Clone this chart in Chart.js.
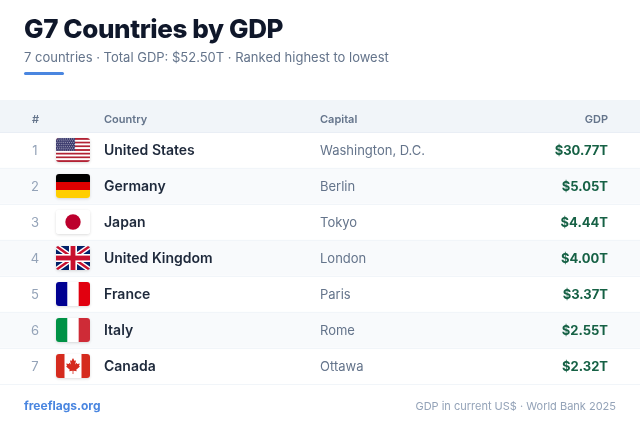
<!DOCTYPE html>
<html><head><meta charset="utf-8">
<style>html,body{margin:0;padding:0;background:#fff}canvas{display:block}</style>
<script src="https://cdn.jsdelivr.net/npm/chart.js@4/dist/chart.umd.min.js"></script>
</head><body><canvas id="c" width="640" height="424"></canvas>
<script>
const ranks=['1','2','3','4','5','6','7'];
const countries=['United States','Germany','Japan','United Kingdom','France','Italy','Canada'];
const capitals=['Washington, D.C.','Berlin','Tokyo','London','Paris','Rome','Ottawa'];
const gdpLabels=['$30.77T','$5.05T','$4.44T','$4.00T','$3.37T','$2.55T','$2.32T'];
const headers=['#','Country','Capital','GDP'];
const titleText='G7 Countries by GDP';
const subtitleText='7 countries · Total GDP: $52.50T · Ranked highest to lowest';
const footerLeft='freeflags.org';
const footerRight='GDP in current US$ · World Bank 2025';
const F='Inter, sans-serif';

function rr(ctx,x,y,w,h,r){ctx.beginPath();ctx.roundRect(x,y,w,h,r);}
const vbands=(ctx,x,y,w,h,cols)=>cols.forEach((c,i)=>{ctx.fillStyle=c;ctx.fillRect(x+w*i/cols.length,y,w/cols.length+.5,h);});
const hbands=(ctx,x,y,w,h,cols)=>cols.forEach((c,i)=>{ctx.fillStyle=c;ctx.fillRect(x,y+h*i/cols.length,w,h/cols.length+.5);});
const flags={
 'United States':(ctx,x,y,w,h)=>{
  const s=h/13;
  for(let i=0;i<13;i++){ctx.fillStyle=i%2?'#fff':'#B22234';ctx.fillRect(x,y+i*s,w,s+.2);}
  const cw=w*0.56,ch=s*7;ctx.fillStyle='#3C3B6E';ctx.fillRect(x,y,cw,ch);
  ctx.fillStyle='rgba(255,255,255,.6)';
  for(let r=0;r<7;r++)for(let c=0;c<9;c++){
    ctx.beginPath();ctx.arc(x+(c+.5+(r%2?.25:-.1))*cw/9,y+(r+.5)*ch/7,.55,0,7);ctx.fill();}
 },
 'Germany':(ctx,x,y,w,h)=>hbands(ctx,x,y,w,h,['#000','#DD0000','#FFCE00']),
 'Japan':(ctx,x,y,w,h)=>{ctx.fillStyle='#fff';ctx.fillRect(x,y,w,h);ctx.fillStyle='#BC002D';ctx.beginPath();ctx.arc(x+w/2,y+h/2,h*.32,0,7);ctx.fill();},
 'United Kingdom':(ctx,x,y,w,h)=>{
  ctx.fillStyle='#012169';ctx.fillRect(x,y,w,h);
  ctx.lineCap='butt';
  const diag=(c,lw)=>{ctx.strokeStyle=c;ctx.lineWidth=lw;ctx.beginPath();ctx.moveTo(x,y);ctx.lineTo(x+w,y+h);ctx.moveTo(x+w,y);ctx.lineTo(x,y+h);ctx.stroke();};
  diag('#fff',h*.22);diag('#C8102E',h*.1);
  ctx.fillStyle='#fff';ctx.fillRect(x+w/2-h/6,y,h/3,h);ctx.fillRect(x,y+h/3,w,h/3);
  ctx.fillStyle='#C8102E';ctx.fillRect(x+w/2-h/10,y,h/5,h);ctx.fillRect(x,y+h*.4,w,h/5);
 },
 'France':(ctx,x,y,w,h)=>vbands(ctx,x,y,w,h,['#000091','#fff','#E1000F']),
 'Italy':(ctx,x,y,w,h)=>vbands(ctx,x,y,w,h,['#009246','#fff','#CE2B37']),
 'Canada':(ctx,x,y,w,h)=>{
  ctx.fillStyle='#fff';ctx.fillRect(x,y,w,h);ctx.fillStyle='#D52B1E';
  ctx.fillRect(x,y,w/4,h);ctx.fillRect(x+w*.75,y,w/4,h);
  const cx=x+w/2,cy=y+h/2,u=h/24;
  const pts=[[0,-8],[-1.6,-5],[-3,-5.8],[-2.2,-1.6],[-3.6,-3.2],[-4.2,-2],[-6.8,-2.4],[-6,0],[-7,.6],[-3.2,3.8],[-3.8,5.2],[-.4,4.7],[-.4,8],[.4,8],[.4,4.7],[3.8,5.2],[3.2,3.8],[7,.6],[6,0],[6.8,-2.4],[4.2,-2],[3.6,-3.2],[2.2,-1.6],[3,-5.8],[1.6,-5]];
  ctx.beginPath();pts.forEach((p,i)=>{const a=cx+p[0]*u,b=cy+p[1]*u;i?ctx.lineTo(a,b):ctx.moveTo(a,b);});ctx.closePath();ctx.fill();
 }
};
function text(ctx,s,x,y,font,color,align,spacing){
  ctx.font=font;ctx.fillStyle=color;ctx.textAlign=align||'left';ctx.textBaseline='alphabetic';
  ctx.letterSpacing=spacing||'0px';ctx.fillText(s,x,y);ctx.letterSpacing='0px';
}
const tablePlugin={
 id:'tablePlugin',
 afterDraw(chart){
  const ctx=chart.ctx,ys=chart.scales.y;
  ctx.save();
  text(ctx,titleText,24,38,'800 26px '+F,'#0f172a','left','-0.4px');
  text(ctx,subtitleText,24,62,'400 13px '+F,'#64748b');
  ctx.fillStyle='#4a86e0';rr(ctx,24,72,40,3,2);ctx.fill();
  ctx.fillStyle='#f1f5f9';ctx.fillRect(0,100,640,32);
  ctx.fillStyle='#e9eef5';ctx.fillRect(0,132,640,1);
  const hf='600 11px '+F;
  text(ctx,headers[0],35.5,123,hf,'#64748b','center');
  text(ctx,headers[1],104,123,hf,'#64748b');
  text(ctx,headers[2],320,123,hf,'#64748b');
  text(ctx,headers[3],608,123,hf,'#64748b','right');
  countries.forEach((name,i)=>{
   const cy=ys.getPixelForValue(i);
   text(ctx,ranks[i],35,cy+5,'400 13px '+F,'#94a3b8','center');
   text(ctx,capitals[i],320,cy+5,'400 13px '+F,'#64748b');
   text(ctx,gdpLabels[i],608,cy+5,'700 13px '+F,'#166145','right');
   const x=56,y=cy-12,w=34,h=24;
   ctx.save();
   ctx.shadowColor='rgba(0,0,0,.14)';ctx.shadowBlur=3;ctx.shadowOffsetY=1;
   ctx.fillStyle='#fff';rr(ctx,x,y,w,h,3);ctx.fill();
   ctx.restore();
   ctx.save();rr(ctx,x,y,w,h,3);ctx.clip();flags[name](ctx,x,y,w,h);ctx.restore();
  });
  text(ctx,footerLeft,24,410,'700 12px '+F,'#4a86e0');
  text(ctx,footerRight,616,410,'400 11px '+F,'#94a3b8','right');
  ctx.restore();
 }
};
new Chart(document.getElementById('c'),{
 type:'bar',
 data:{labels:countries,datasets:[{
  data:countries.map(()=>1),
  backgroundColor:countries.map((_,i)=>i%2?'#f8fafc':'#ffffff'),
  barPercentage:1,categoryPercentage:1,borderWidth:0
 }]},
 plugins:[tablePlugin],
 options:{
  indexAxis:'y',responsive:false,animation:false,devicePixelRatio:1,
  layout:{padding:{top:132,bottom:40,left:0,right:0}},
  plugins:{legend:{display:false},tooltip:{enabled:false},title:{display:false}},
  scales:{
   x:{display:false,min:0,max:1},
   y:{position:'left',offset:true,
    grid:{color:'#f1f5f9',z:1,drawTicks:false,offset:true},border:{display:false},
    afterFit(s){s.width=0;s.paddingTop=0;s.paddingBottom=0;},
    ticks:{mirror:true,padding:104,labelOffset:1,z:2,color:'#1e293b',font:{family:F,size:14,weight:'600'},autoSkip:false}
   }
  }
 }
});
</script></body></html>
